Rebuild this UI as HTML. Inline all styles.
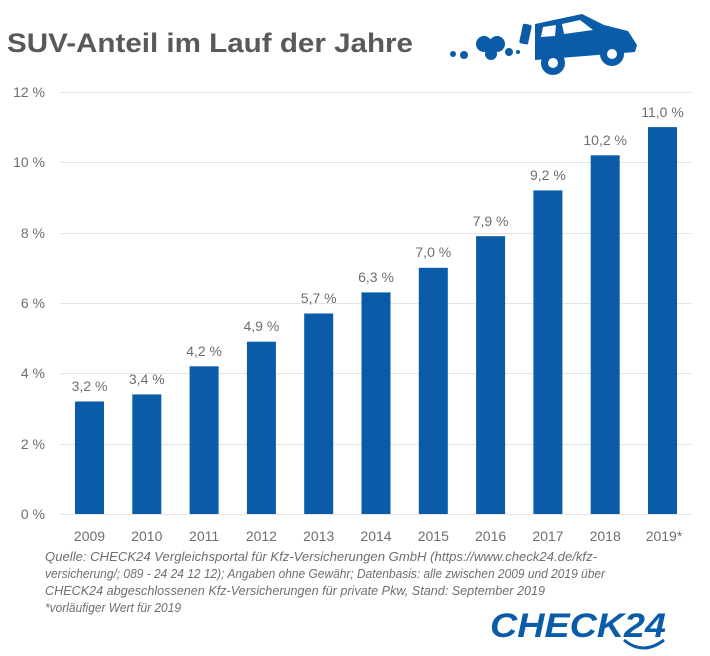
<!DOCTYPE html><html><head><meta charset="utf-8"><style>body{margin:0;background:#fff}svg{display:block}</style></head><body>
<svg width="710" height="656" viewBox="0 0 710 656" xmlns="http://www.w3.org/2000/svg" font-family="Liberation Sans, sans-serif">
<text x="7" y="52" font-size="27" font-weight="bold" fill="#58595b" textLength="406" lengthAdjust="spacingAndGlyphs">SUV-Anteil im Lauf der Jahre</text>
<g fill="#0a5ba8">
<circle cx="453" cy="54" r="3"/><circle cx="464" cy="55" r="4"/>
<circle cx="484" cy="44" r="8"/><circle cx="497" cy="44" r="8"/><circle cx="491" cy="54" r="6"/><circle cx="509" cy="52" r="4"/><circle cx="518" cy="52" r="2"/>
<rect x="521" y="24" width="9" height="20" rx="2" transform="rotate(12 525 34)"/>
<path d="M535 24 L582 14 L604 25 L628 31 L637 45 L635 52 L535 60 Z"/>
<circle cx="553" cy="63" r="12"/><circle cx="612" cy="54" r="12"/>
</g>
<g fill="#fff"><path d="M543 27 L556 25 L555 36 L541 37Z"/><path d="M562 24 L580 20 L593 30 L564 34Z"/>
<circle cx="553" cy="63" r="5"/><circle cx="612" cy="54" r="5"/></g>
<g stroke="#e3e3e3" stroke-width="1">
<line x1="60" x2="691" y1="514.5" y2="514.5"/><line x1="60" x2="691" y1="444.5" y2="444.5"/><line x1="60" x2="691" y1="373.5" y2="373.5"/><line x1="60" x2="691" y1="303.5" y2="303.5"/><line x1="60" x2="691" y1="233.5" y2="233.5"/><line x1="60" x2="691" y1="162.5" y2="162.5"/><line x1="60" x2="691" y1="92.5" y2="92.5"/>
</g>
<g font-size="14" fill="#6d6e70" text-anchor="end">
<text x="45" y="519">0 %</text><text x="45" y="449">2 %</text><text x="45" y="378">4 %</text><text x="45" y="308">6 %</text><text x="45" y="238">8 %</text><text x="45" y="167">10 %</text><text x="45" y="97">12 %</text>
</g>
<g fill="#0a5ba8">
<rect x="75" y="401.5" width="29" height="112.5"/>
<rect x="132.3" y="394.4" width="29" height="119.6"/>
<rect x="189.6" y="366.3" width="29" height="147.7"/>
<rect x="246.9" y="341.7" width="29" height="172.3"/>
<rect x="304.2" y="313.5" width="29" height="200.5"/>
<rect x="361.5" y="292.4" width="29" height="221.6"/>
<rect x="418.8" y="267.8" width="29" height="246.2"/>
<rect x="476.1" y="236.2" width="29" height="277.8"/>
<rect x="533.4" y="190.4" width="29" height="323.6"/>
<rect x="590.7" y="155.3" width="29" height="358.7"/>
<rect x="648" y="127.1" width="29" height="386.9"/>
</g>
<g font-size="14" fill="#6d6e70" text-anchor="middle">
<text x="89.5" y="391">3,2 %</text><text x="146.8" y="384">3,4 %</text><text x="204.1" y="356">4,2 %</text><text x="261.4" y="331">4,9 %</text><text x="318.7" y="303">5,7 %</text><text x="376" y="282">6,3 %</text><text x="433.3" y="257">7,0 %</text><text x="490.6" y="226">7,9 %</text><text x="547.9" y="180">9,2 %</text><text x="605.2" y="145">10,2 %</text><text x="662.5" y="117">11,0 %</text>
<text x="89.5" y="541">2009</text><text x="146.8" y="541">2010</text><text x="204.1" y="541">2011</text><text x="261.4" y="541">2012</text><text x="318.7" y="541">2013</text><text x="376" y="541">2014</text><text x="433.3" y="541">2015</text><text x="490.6" y="541">2016</text><text x="547.9" y="541">2017</text><text x="605.2" y="541">2018</text><text x="664" y="541">2019*</text>
</g>
<g font-size="13" fill="#6d6e70" font-style="italic" lengthAdjust="spacingAndGlyphs">
<text x="45" y="561" textLength="552" lengthAdjust="spacingAndGlyphs">Quelle: CHECK24 Vergleichsportal für Kfz-Versicherungen GmbH (https://www.check24.de/kfz-</text>
<text x="45" y="578" textLength="560" lengthAdjust="spacingAndGlyphs">versicherung/; 089 - 24 24 12 12); Angaben ohne Gewähr; Datenbasis: alle zwischen 2009 und 2019 über</text>
<text x="45" y="595" textLength="500" lengthAdjust="spacingAndGlyphs">CHECK24 abgeschlossenen Kfz-Versicherungen für private Pkw, Stand: September 2019</text>
<text x="45" y="612" textLength="136" lengthAdjust="spacingAndGlyphs">*vorläufiger Wert für 2019</text>
</g>
<text x="490" y="637" font-size="34" font-weight="bold" font-style="italic" fill="#0a5ba8" textLength="176" lengthAdjust="spacingAndGlyphs">CHECK24</text>
<path d="M624 640 Q643 656 664 640" stroke="#0a5ba8" stroke-width="3" fill="none"/>
</svg>
</body></html>
